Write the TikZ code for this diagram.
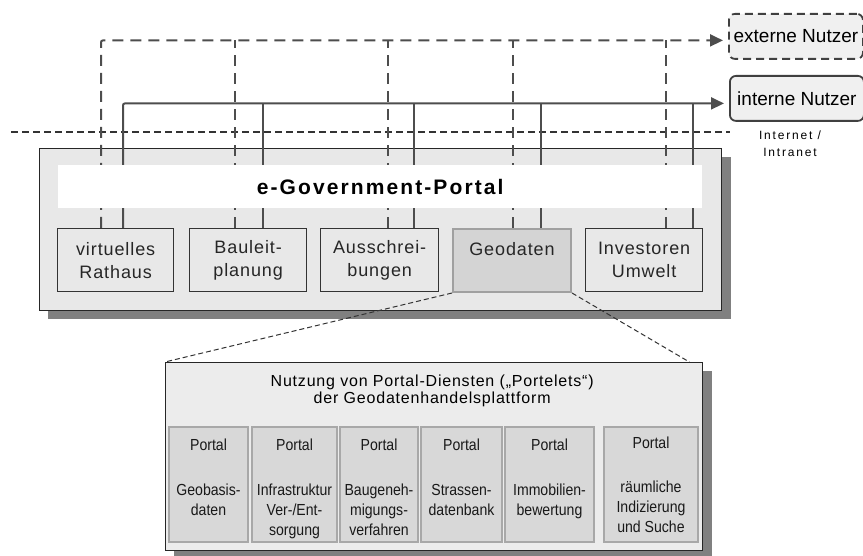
\documentclass[tikz,border=0pt]{standalone}
\usepackage{fontspec}
\setmainfont{Liberation Sans}
\newfontfamily\boxfont[LetterSpace=5]{Liberation Sans}
\newfontfamily\titlefont[LetterSpace=10]{Liberation Sans}
\newfontfamily\netfont[LetterSpace=15]{Liberation Sans}
\newfontfamily\lowfont[LetterSpace=5]{Liberation Sans}
\newfontfamily\narrowfont[FakeStretch=0.88]{Liberation Sans}
\usetikzlibrary{arrows.meta,calc}
\definecolor{linegray}{HTML}{4D4D4D}
\definecolor{mainfill}{HTML}{E8E8E8}
\definecolor{lowfill}{HTML}{ECECEC}
\definecolor{shadowgray}{HTML}{808080}
\definecolor{geofill}{HTML}{D4D4D4}
\definecolor{geoborder}{HTML}{A0A0A0}
\definecolor{colfill}{HTML}{D8D8D8}
\definecolor{colborder}{HTML}{A8A8A8}
\definecolor{userfill}{HTML}{F0F0F0}
\begin{document}
\begin{tikzpicture}[x=1pt,y=-1pt,
  bigbox/.style={draw=black!85, line width=1.4pt, inner sep=0pt, anchor=north west},
  shadowfill/.style={fill=shadowgray},
  subbox/.style={draw=black!80, line width=1.3pt, fill=mainfill, minimum height=63pt,
    inner sep=0pt, align=center, anchor=north west, text=black!85,
    font=\boxfont\fontsize{18}{23}\selectfont},
  geobox/.style={subbox, draw=geoborder, line width=2pt, fill=geofill},
  userbox/.style={draw=black!75, line width=1.8pt, fill=userfill, rounded corners=6pt,
    minimum width=134pt, minimum height=45pt, inner sep=0pt, anchor=north west,
    font=\fontsize{19}{23}\selectfont},
  colbox/.style={draw=colborder, line width=2pt, fill=colfill, minimum height=115pt,
    inner sep=0pt, anchor=north west},
  coltext/.style={align=center, inner sep=0pt, anchor=north, text=black!90,
    font=\narrowfont\fontsize{16}{20}\selectfont},
  extline/.style={draw=linegray, line width=2pt, dash pattern=on 11pt off 7pt, rounded corners=2pt},
  intline/.style={draw=linegray, line width=2pt, rounded corners=2pt},
  netline/.style={draw=black!80, line width=1.3pt, dash pattern=on 7pt off 4pt},
  zoomline/.style={draw=black!80, line width=1pt, dash pattern=on 5pt off 3pt},
  tip/.style={-{Triangle[length=13pt,width=12pt]}, shorten >=5pt}
]
\useasboundingbox (0,0) rectangle (863,556);

% main portal box
\fill[shadowfill] (48,157) rectangle (731,319);
\node[bigbox, fill=mainfill, minimum width=682pt, minimum height=162pt] (main) at (39,148) {};

% lower box
\fill[shadowfill] (174,371) rectangle (712,559);
\node[bigbox, fill=lowfill, minimum width=537pt, minimum height=188pt] (low) at (165,362) {};

% sub boxes
\node[subbox, minimum width=116pt] (vr) at (57,228) {virtuelles\\Rathaus};
\node[subbox, minimum width=117pt] (ba) at (189,228) {Bauleit-\\planung};
\node[subbox, minimum width=118pt] (au) at (320,228) {Ausschrei-\\bungen};
\node[geobox, minimum width=118pt] (geo) at (452,228) {Geodaten\\\mbox{}};
\node[subbox, minimum width=117pt] (inv) at (585,228) {Investoren\\Umwelt};

% user nodes
\node[userbox, dashed, dash pattern=on 8pt off 5pt] (ext) at (728,13) {externe Nutzer};
\node[userbox] (int) at (729,75) {interne Nutzer};

% internet / intranet line
\coordinate (netL) at (11,132);
\coordinate (netR) at (730,132);
\draw[netline] (netL) -- (netR);
\node[font=\netfont\fontsize{12}{17}\selectfont, align=center, inner sep=0pt] (netlbl) at (790,143.5) {Internet /\\Intranet};

% connector anchors
\coordinate (e1) at ($(vr.north west)+(44,0)$);
\coordinate (e2) at ($(ba.north west)+(46,0)$);
\coordinate (e3) at ($(au.north west)+(68,0)$);
\coordinate (e4) at ($(geo.north west)+(61,0)$);
\coordinate (e5) at ($(inv.north west)+(81,0)$);
\coordinate (i1) at ($(vr.north west)+(66,0)$);
\coordinate (i2) at ($(ba.north west)+(74,0)$);
\coordinate (i3) at ($(au.north west)+(94,0)$);
\coordinate (i4) at ($(geo.north west)+(89,0)$);
\coordinate (i5) at ($(inv.north west)+(108,0)$);
\coordinate (ein) at ([yshift=-4pt]ext.west);
\coordinate (iin) at ([yshift=-5pt]int.west);

% external (dashed) connectors
\draw[extline, tip] (e1) |- (ein);
\foreach \c in {e2,e3,e4,e5} \draw[extline] (\c) -- (\c |- ein);
% internal (solid) connectors
\draw[intline, tip] (i1) |- (iin);
\foreach \c in {i2,i3,i4,i5} \draw[intline] (\c) -- (\c |- iin);

% title band
\node[fill=white, minimum width=644pt, minimum height=43pt, inner sep=0pt, anchor=north west,
  font=\titlefont\bfseries\fontsize{21}{25}\selectfont] (band) at (58,165) {e-Government-Portal};

% zoom lines
\draw[zoomline] (geo.south west) -- (low.north west);
\draw[zoomline] (geo.south east) -- ([xshift=-14pt]low.north east);

% lower box title
\node[font=\lowfont\fontsize{16}{17.5}\selectfont, align=center, inner sep=0pt, anchor=north]
  (lowtitle) at ($(low.north)+(-2,12.5)$) {Nutzung von Portal-Diensten („Portelets“)\\der Geodatenhandelsplattform};

% columns
\node[colbox, minimum width=79pt] (c1) at (168,426) {};
\node[colbox, minimum width=85pt] (c2) at (251,426) {};
\node[colbox, minimum width=78pt] (c3) at (339,426) {};
\node[colbox, minimum width=81pt] (c4) at (420,426) {};
\node[colbox, minimum width=89pt] (c5) at (504,426) {};
\node[colbox, minimum width=94pt] (c6) at (603,426) {};

\node[coltext] (t1) at ($(c1.north)+(0,13)$) {Portal\\[25pt]Geobasis-\\daten};
\node[coltext] (t2) at ($(c2.north)+(0,13)$) {Portal\\[25pt]Infrastruktur\\Ver-/Ent-\\sorgung};
\node[coltext] (t3) at ($(c3.north)+(0,13)$) {Portal\\[25pt]Baugeneh-\\migungs-\\verfahren};
\node[coltext] (t4) at ($(c4.north)+(0,13)$) {Portal\\[25pt]Strassen-\\datenbank};
\node[coltext] (t5) at ($(c5.north)+(0,13)$) {Portal\\[25pt]Immobilien-\\bewertung};
\node[coltext] (t6) at ($(c6.north)+(0,11)$) {Portal\\[24pt]räumliche\\Indizierung\\und Suche};
\end{tikzpicture}
\end{document}
